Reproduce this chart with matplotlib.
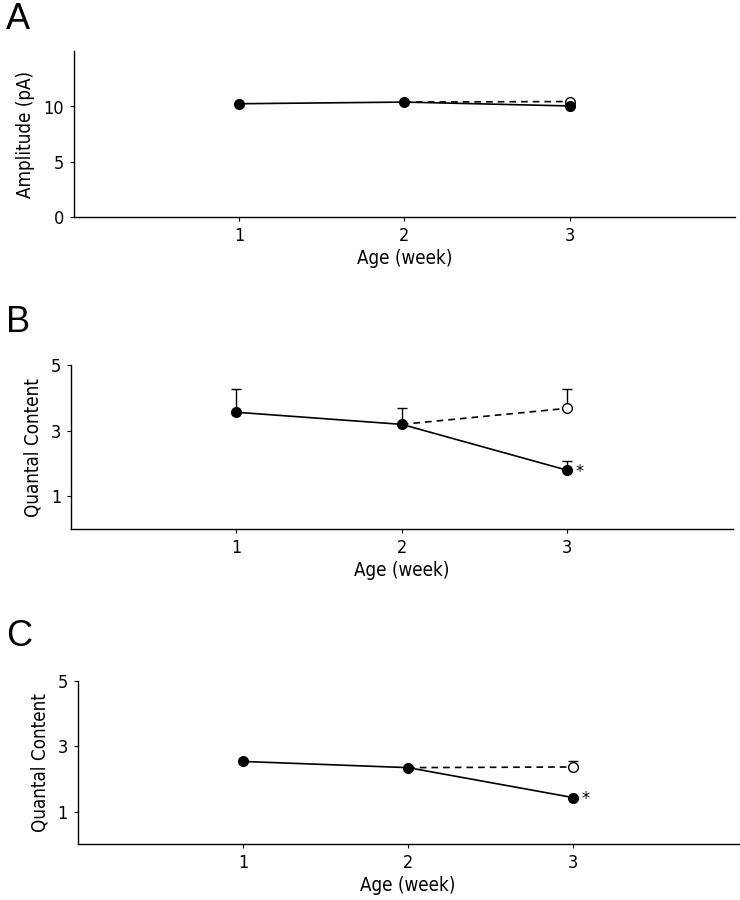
import matplotlib
matplotlib.use("Agg")
import matplotlib.pyplot as plt

weeks = [1, 2, 3]

# Panel A: mini amplitude (pA)
amp_filled = [10.25, 10.4, 10.05]
amp_open = 10.45

# Panel B: quantal content
qb_filled = [3.57, 3.20, 1.80]
qb_filled_err = [0.70, 0.51, 0.29]
qb_open = 3.69
qb_open_err = 0.59

# Panel C: quantal content
qc_filled = [2.54, 2.35, 1.43]
qc_open = 2.37
qc_open_err = 0.19

plt.rcParams['font.family'] = ['DejaVu Sans']
plt.rcParams['font.stretch'] = 'condensed'

fig = plt.figure(figsize=(7.4, 9.0), dpi=100)

def style(ax, ylim, yticks, ylabel):
    ax.set_xlim(0, 4)
    ax.set_ylim(*ylim)
    ax.set_xticks(weeks)
    ax.set_xticklabels([str(w) for w in weeks], fontsize=13)
    ax.set_yticks(yticks)
    ax.set_yticklabels([str(t) for t in yticks], fontsize=13)
    for s in ['top', 'right']:
        ax.spines[s].set_visible(False)
    for s in ['left', 'bottom']:
        ax.spines[s].set_linewidth(1.0)
    ax.tick_params(axis='both', length=3, width=0.8, direction='out', pad=4)
    ax.set_xlabel('Age (week)', fontsize=13.5, labelpad=3)
    ax.set_ylabel(ylabel, fontsize=13.5, labelpad=6)

def draw(ax, filled, fill_err, open_v, open_err, star):
    ax.plot(weeks, filled, color='black', lw=1.2, zorder=2)
    ax.plot([weeks[1], weeks[2]], [filled[1], open_v], color='black', lw=1.2,
            ls=(0, (4, 3)), zorder=2)
    if fill_err is not None:
        ax.errorbar(weeks, filled, yerr=[[0]*3, fill_err], fmt='none', ecolor='black',
                    elinewidth=1.0, capsize=3.5, capthick=1.0, zorder=1)
    if open_err:
        ax.errorbar([weeks[2]], [open_v], yerr=[[0], [open_err]], fmt='none', ecolor='black',
                    elinewidth=1.0, capsize=3.5, capthick=1.0, zorder=1)
    ax.plot(weeks, filled, 'o', color='black', ms=7, zorder=4)
    ax.plot([weeks[2]], [open_v], 'o', mfc='white', mec='black', mew=1.0, ms=7, zorder=3)
    if star:
        ax.annotate('*', xy=(weeks[2], filled[2]), xytext=(6, -1), textcoords='offset points',
                    fontsize=13, ha='left', va='center')

axA = fig.add_axes([0.100, 0.759, 0.893, 0.184])
style(axA, (0, 15), [0, 5, 10], 'Amplitude (pA)')
draw(axA, amp_filled, None, amp_open, None, False)

axB = fig.add_axes([0.096, 0.412, 0.894, 0.182])
style(axB, (0, 5), [1, 3, 5], 'Quantal Content')
draw(axB, qb_filled, qb_filled_err, qb_open, qb_open_err, True)

axC = fig.add_axes([0.105, 0.062, 0.893, 0.181])
style(axC, (0, 5), [1, 3, 5], 'Quantal Content')
draw(axC, qc_filled, None, qc_open, qc_open_err, True)

for lab, y in [('A', 0.978), ('B', 0.642), ('C', 0.293)]:
    fig.text(0.008, y, lab, fontsize=26, family=['Liberation Sans', 'DejaVu Sans'],
             fontstretch='normal', ha='left', va='center')

fig.savefig('out.png', dpi=100)
